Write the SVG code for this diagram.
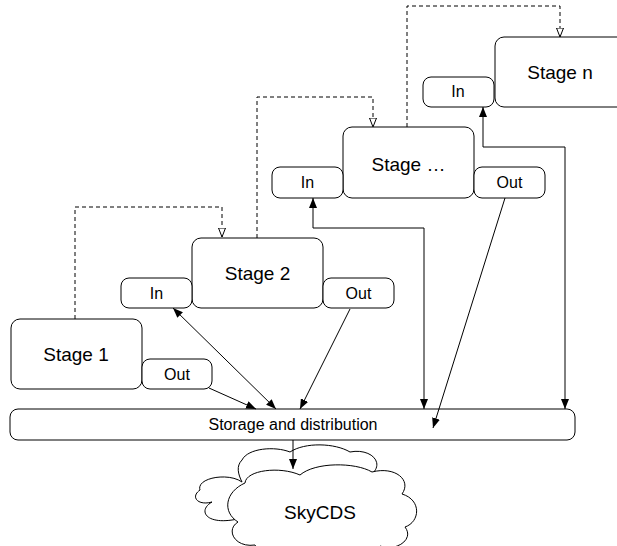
<svg xmlns="http://www.w3.org/2000/svg" width="617" height="546" viewBox="0 0 617 546">
<style>
.box{fill:#fff;stroke:#000;stroke-width:1}
.t{font-family:"Liberation Sans",Arial,sans-serif;fill:#000;text-anchor:middle}
.big{font-size:19px}
.small{font-size:16px}
.ln{fill:none;stroke:#000;stroke-width:1}
.dash{fill:none;stroke:#000;stroke-width:1;stroke-dasharray:4,3}
</style>
<defs>
<marker id="arr" markerUnits="userSpaceOnUse" markerWidth="10" markerHeight="8" refX="10" refY="4" viewBox="0 0 10 8" orient="auto-start-reverse">
<path d="M0,0 L10,4 L0,8 z" fill="#000"/>
</marker>
<marker id="open" markerUnits="userSpaceOnUse" markerWidth="10" markerHeight="8" refX="9.5" refY="4" viewBox="0 0 10 8" orient="auto">
<path d="M0.5,0.5 L9.5,4 L0.5,7.5 z" fill="#fff" stroke="#000" stroke-width="1"/>
</marker>
</defs>
<rect width="617" height="546" fill="#fff"/>

<g id="stage1">
<rect class="box" x="11" y="319" width="131" height="70" rx="9"/>
<text class="t big" x="76" y="361">Stage 1</text>
</g>
<g id="stage1-out">
<rect class="box" x="142" y="359" width="70" height="30" rx="8"/>
<text class="t small" x="177" y="380">Out</text>
</g>

<g id="stage2">
<rect class="box" x="192" y="238" width="131" height="70" rx="9"/>
<text class="t big" x="257.5" y="280">Stage 2</text>
</g>
<g id="stage2-in">
<rect class="box" x="121" y="278" width="71" height="30" rx="8"/>
<text class="t small" x="156.5" y="299">In</text>
</g>
<g id="stage2-out">
<rect class="box" x="323" y="278" width="71" height="30" rx="8"/>
<text class="t small" x="358.5" y="299">Out</text>
</g>

<g id="stagex">
<rect class="box" x="343" y="127" width="131" height="71" rx="9"/>
<text class="t big" x="408.5" y="171">Stage …</text>
</g>
<g id="stagex-in">
<rect class="box" x="272" y="167" width="71" height="31" rx="8"/>
<text class="t small" x="307.5" y="188">In</text>
</g>
<g id="stagex-out">
<rect class="box" x="474" y="167" width="71" height="31" rx="8"/>
<text class="t small" x="509.5" y="188">Out</text>
</g>

<g id="stagen">
<rect class="box" x="495" y="37" width="131" height="70" rx="9"/>
<text class="t big" x="560" y="79">Stage n</text>
</g>
<g id="stagen-in">
<rect class="box" x="423" y="77" width="71" height="30" rx="8"/>
<text class="t small" x="458" y="97">In</text>
</g>

<g id="storage">
<rect class="box" x="10" y="409" width="565" height="31" rx="8"/>
<text class="t small" x="293" y="430">Storage and distribution</text>
</g>

<g id="skycds">
<path class="box" d="M242,482 C228,472 196,478 200,490 C190,497 198,506 212,502 C198,510 205,524 232,520 L300,510 L372,474 C385,462 370,448 350,452 C335,443 305,442 290,452 C275,446 248,448 242,460 C236,466 238,474 242,482 Z"/>
<path class="box" d="M245,483 C246,470 280,466 300,475 C315,462 355,462 372,472 C395,466 412,480 402,494 C422,500 420,522 405,527 C415,540 395,552 380,546 C370,560 330,560 318,548 C300,560 260,558 255,545 C235,548 225,530 238,522 C222,512 225,492 245,483 Z"/>
<text class="t big" x="320" y="519">SkyCDS</text>
</g>

<g id="connectors">
<path class="ln" d="M209,388 L256,409" marker-end="url(#arr)"/>
<path class="ln" d="M173,308 L276,409" marker-start="url(#arr)" marker-end="url(#arr)"/>
<path class="ln" d="M350,309 L300,409" marker-end="url(#arr)"/>
<path class="ln" d="M313,198 L313,228 L424,228 L424,409" marker-start="url(#arr)" marker-end="url(#arr)"/>
<path class="ln" d="M505,198 L433,428" marker-end="url(#arr)"/>
<path class="ln" d="M483,107 L483,147 L565,147 L565,409" marker-start="url(#arr)" marker-end="url(#arr)"/>
<path class="ln" d="M293,440 L293,469" marker-end="url(#arr)"/>
<path class="dash" d="M75,319 L75,207 L222,207 L222,237" marker-end="url(#open)"/>
<path class="dash" d="M257,238 L257,97 L373,97 L373,127" marker-end="url(#open)"/>
<path class="dash" d="M407,127 L407,6 L560,6 L560,37" marker-end="url(#open)"/>
</g>
</svg>
